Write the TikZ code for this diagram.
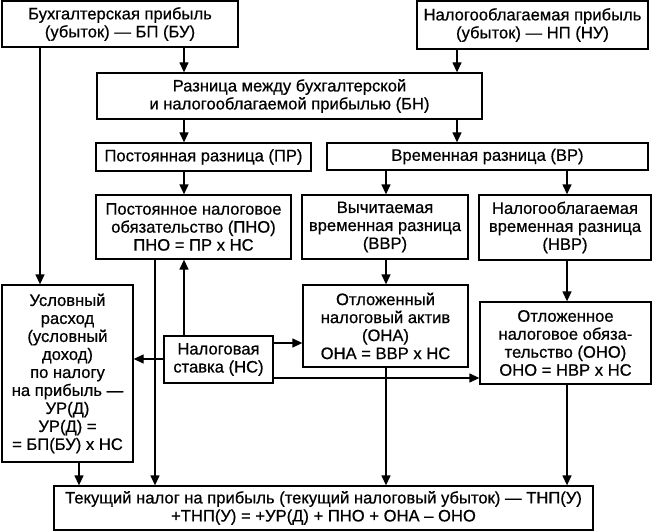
\documentclass[tikz,border=0pt]{standalone}
\usepackage{fontspec}
\setmainfont{Liberation Sans}[FakeBold=0.6]
\usetikzlibrary{arrows.meta}
\begin{document}
\begin{tikzpicture}[x=1pt,y=-1pt,
  box/.style={draw,line width=1.3pt,inner sep=0pt,align=center,font=\fontsize{16.6}{18}\selectfont},
  arr/.style={line width=1.3pt,-{Triangle[length=10pt,width=9pt]}}]
\useasboundingbox (0,0) rectangle (653,532);
\node[box,minimum width=236pt,minimum height=46pt] (bp) at (120,24) {Бухгалтерская прибыль\\(убыток) — БП (БУ)};
\node[box,minimum width=231pt,minimum height=48pt] (np) at (532.5,25) {Налогооблагаемая прибыль\\(убыток) — НП (НУ)};
\node[box,minimum width=385pt,minimum height=46pt] (bn) at (289.5,96) {Разница между бухгалтерской\\и налогооблагаемой прибылью (БН)};
\node[box,minimum width=215pt,minimum height=28pt] (pr) at (203.5,157) {Постоянная разница (ПР)};
\node[box,minimum width=321pt,minimum height=27pt] (vr) at (487.5,156.5) {Временная разница (ВР)};
\node[box,minimum width=195pt,minimum height=64pt] (pno) at (193.5,227) {Постоянное налоговое\\обязательство (ПНО)\\ПНО = ПР х НС};
\node[box,minimum width=166pt,minimum height=64pt] (vvr) at (385,227) {Вычитаемая\\временная разница\\(ВВР)};
\node[box,minimum width=172pt,minimum height=65pt] (nvr) at (565,227.5) {Налогооблагаемая\\временная разница\\(НВР)};
\node[box,minimum width=131pt,minimum height=177pt] (ur) at (67.5,373.5) {Условный\\расход\\(условный\\доход)\\по налогу\\на прибыль —\\УР(Д)\\УР(Д) =\\= БП(БУ) х НС};
\node[box,minimum width=109pt,minimum height=47pt] (ns) at (218.5,359.5) {Налоговая\\ставка (НС)};
\node[box,minimum width=165pt,minimum height=82pt] (ona) at (385.5,326) {Отложенный\\налоговый актив\\(ОНА)\\ОНА = ВВР х НС};
\node[box,minimum width=171pt,minimum height=82pt] (ono) at (565.5,343) {Отложенное\\налоговое обяза-\\тельство (ОНО)\\ОНО = НВР х НС};
\node[box,minimum width=539pt,minimum height=44pt] (tnp) at (323.5,508) {Текущий налог на прибыль (текущий налоговый убыток) — ТНП(У)\\+ТНП(У) = +УР(Д) + ПНО + ОНА – ОНО};
\coordinate (x40) at (40,0);
\coordinate (x79) at (79,0);
\coordinate (x155) at (155,0);
\coordinate (x184) at (184,0);
\coordinate (x386) at (386,0);
\coordinate (x457) at (457,0);
\coordinate (x567) at (567,0);
\coordinate (y343) at (0,343);
\coordinate (y359) at (0,359);
\coordinate (y378) at (0,378);
\draw[arr] (bp.south -| x184) -- (bn.north -| x184);
\draw[arr] (np.south -| x457) -- (bn.north -| x457);
\draw[arr] (bp.south -| x40) -- (ur.north -| x40);
\draw[arr] (bn.south -| x184) -- (pr.north -| x184);
\draw[arr] (bn.south -| x457) -- (vr.north -| x457);
\draw[arr] (pr.south -| x184) -- (pno.north -| x184);
\draw[arr] (vr.south -| x386) -- (vvr.north -| x386);
\draw[arr] (vr.south -| x567) -- (nvr.north -| x567);
\draw[arr] (vvr.south -| x386) -- (ona.north -| x386);
\draw[arr] (nvr.south -| x567) -- (ono.north -| x567);
\draw[arr] (ns.north -| x184) -- (pno.south -| x184);
\draw[arr] (ns.west |- y359) -- (ur.east |- y359);
\draw[arr] (ns.east |- y343) -- (ona.west |- y343);
\draw[arr] (ns.east |- y378) -- (ono.west |- y378);
\draw[arr] (pno.south -| x155) -- (tnp.north -| x155);
\draw[arr] (ur.south -| x79) -- (tnp.north -| x79);
\draw[arr] (ona.south -| x386) -- (tnp.north -| x386);
\draw[arr] (ono.south -| x567) -- (tnp.north -| x567);
\end{tikzpicture}
\end{document}
